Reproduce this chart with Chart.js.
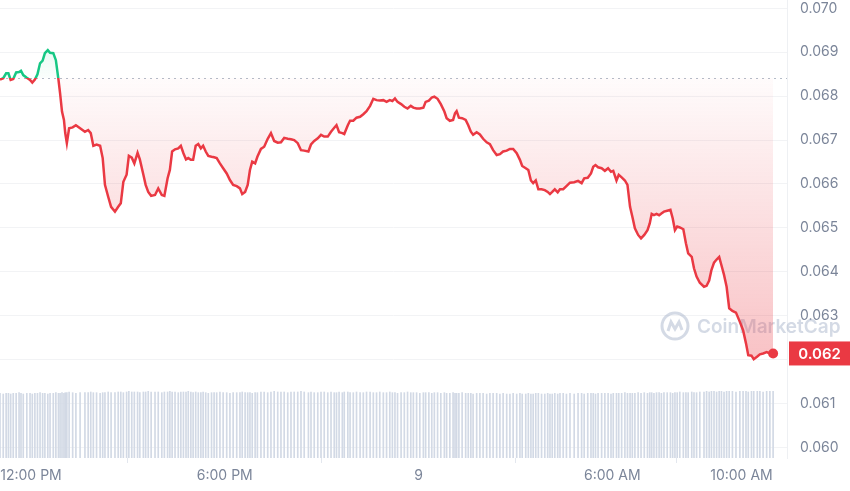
<!DOCTYPE html>
<html>
<head>
<meta charset="utf-8">
<script src="https://cdn.jsdelivr.net/npm/chart.js@4.4.1/dist/chart.umd.min.js"></script>
<style>
  body { margin: 0; background: #fff; }
  #wrap { width: 850px; height: 491px; }
</style>
</head>
<body>
<div id="wrap"><canvas id="priceChart" width="850" height="491"></canvas></div>
<script>
// hours relative to 12:00 PM (day 8)
const times = [
  -0.96,-0.86,-0.77,-0.70,-0.63,-0.55,-0.46,-0.37,-0.31,-0.24,
  -0.13,-0.03,0.04,0.12,0.20,0.28,0.36,0.43,0.52,0.59,
  0.69,0.77,0.85,0.90,0.96,1.02,1.06,1.11,1.18,1.29,
  1.39,1.52,1.67,1.77,1.85,1.93,2.03,2.14,2.22,2.29,
  2.39,2.48,2.60,2.70,2.78,2.86,2.96,3.03,3.12,3.20,
  3.30,3.37,3.48,3.55,3.63,3.72,3.84,3.94,4.05,4.13,
  4.23,4.30,4.37,4.46,4.56,4.64,4.72,4.80,4.87,4.95,
  5.02,5.10,5.18,5.26,5.33,5.41,5.49,5.59,5.67,5.75,
  5.85,5.95,6.06,6.16,6.26,6.37,6.47,6.54,6.63,6.71,
  6.78,6.85,6.94,7.01,7.12,7.22,7.33,7.43,7.53,7.64,
  7.74,7.84,7.95,8.05,8.15,8.26,8.36,8.46,8.59,8.67,
  8.77,8.88,8.98,9.08,9.19,9.29,9.39,9.46,9.54,9.64,
  9.70,9.81,9.88,9.98,10.08,10.19,10.29,10.39,10.50,10.60,
  10.70,10.80,10.91,11.01,11.11,11.19,11.27,11.35,11.46,11.56,
  11.66,11.76,11.84,11.94,12.04,12.15,12.22,12.32,12.41,12.49,
  12.59,12.69,12.80,12.87,12.97,13.07,13.13,13.18,13.25,13.35,
  13.46,13.54,13.62,13.69,13.80,13.90,14.00,14.11,14.21,14.31,
  14.42,14.52,14.62,14.73,14.83,14.93,15.04,15.14,15.21,15.32,
  15.40,15.48,15.55,15.63,15.71,15.81,15.91,16.00,16.07,16.14,
  16.22,16.31,16.38,16.48,16.58,16.69,16.82,16.94,17.05,17.13,
  17.24,17.34,17.41,17.48,17.56,17.67,17.77,17.87,17.96,18.03,
  18.13,18.20,18.29,18.39,18.47,18.55,18.62,18.70,18.80,18.89,
  18.99,19.09,19.16,19.22,19.29,19.37,19.45,19.52,19.60,19.70,
  19.80,19.87,19.94,20.01,20.09,20.20,20.28,20.35,20.46,20.53,
  20.61,20.71,20.84,20.92,21.00,21.07,21.15,21.23,21.31,21.38,
  21.46,21.54,21.62,21.72,21.83,21.95,22.05,22.14,22.21,22.31,
  22.38,22.49,22.57,22.67,22.78,22.88,22.98
];

const prices = [
  0.06838,0.06841,0.06852,0.06852,0.06837,0.06839,0.06854,0.06855,0.06858,0.06848,
  0.06842,0.06837,0.06831,0.06838,0.06850,0.06875,0.06881,0.06898,0.06905,0.06899,
  0.06898,0.06882,0.06838,0.06807,0.06765,0.06746,0.06716,0.06693,0.06727,0.06729,
  0.06734,0.06727,0.06719,0.06723,0.06716,0.06687,0.06690,0.06687,0.06659,0.06598,
  0.06571,0.06548,0.06537,0.06548,0.06556,0.06605,0.06621,0.06664,0.06660,0.06647,
  0.06671,0.06656,0.06621,0.06598,0.06582,0.06573,0.06575,0.06590,0.06575,0.06573,
  0.06613,0.06632,0.06674,0.06679,0.06681,0.06687,0.06670,0.06656,0.06659,0.06655,
  0.06655,0.06687,0.06691,0.06681,0.06687,0.06674,0.06664,0.06662,0.06661,0.06659,
  0.06647,0.06636,0.06624,0.06609,0.06598,0.06595,0.06590,0.06577,0.06582,0.06598,
  0.06632,0.06651,0.06647,0.06662,0.06680,0.06685,0.06703,0.06716,0.06698,0.06694,
  0.06695,0.06705,0.06703,0.06702,0.06700,0.06693,0.06677,0.06676,0.06674,0.06690,
  0.06698,0.06704,0.06712,0.06708,0.06708,0.06719,0.06728,0.06734,0.06718,0.06716,
  0.06714,0.06734,0.06744,0.06744,0.06751,0.06753,0.06759,0.06766,0.06778,0.06794,
  0.06791,0.06790,0.06791,0.06787,0.06791,0.06789,0.06795,0.06787,0.06782,0.06776,
  0.06772,0.06778,0.06774,0.06772,0.06772,0.06774,0.06787,0.06790,0.06797,0.06799,
  0.06794,0.06782,0.06765,0.06750,0.06744,0.06746,0.06761,0.06766,0.06751,0.06750,
  0.06746,0.06734,0.06719,0.06712,0.06718,0.06713,0.06703,0.06695,0.06691,0.06677,
  0.06666,0.06668,0.06674,0.06676,0.06680,0.06680,0.06670,0.06655,0.06641,0.06636,
  0.06632,0.06608,0.06602,0.06608,0.06588,0.06588,0.06586,0.06582,0.06577,0.06582,
  0.06588,0.06581,0.06588,0.06588,0.06595,0.06603,0.06604,0.06607,0.06602,0.06613,
  0.06614,0.06624,0.06639,0.06643,0.06638,0.06636,0.06630,0.06636,0.06628,0.06630,
  0.06608,0.06621,0.06615,0.06608,0.06598,0.06548,0.06526,0.06499,0.06484,0.06476,
  0.06484,0.06495,0.06510,0.06532,0.06529,0.06532,0.06529,0.06533,0.06537,0.06539,
  0.06541,0.06522,0.06495,0.06503,0.06501,0.06497,0.06465,0.06442,0.06434,0.06408,
  0.06389,0.06375,0.06366,0.06368,0.06380,0.06404,0.06421,0.06428,0.06434,0.06415,
  0.06393,0.06366,0.06317,0.06311,0.06307,0.06286,0.06267,0.06237,0.06210,0.06209,
  0.06201,0.06207,0.06212,0.06214,0.06217,0.06214,0.06214
];

// relative volume (no axis shown)
const volumes = [
  96,95,96,96,95,96,96,97,96,95,96,96,95,96,96,97,96,96,95,96,96,97,96,96,
  97,96,97,97,98,97,96,97,97,97,98,97,97,96,97,97,98,97,97,
  98,98,97,98,99,98,98,98,97,98,98,99,98,98,98,97,98,98,99,98,98,97,98,98,98,99,98,97,98,
  97,97,98,97,96,97,97,97,98,97,97,96,97,97,97,98,97,97,97,96,97,97,
  98,98,97,98,99,98,98,98,97,98,98,98,99,
  98,97,98,97,97,98,98,97,98,97,97,98,97,98,98,97,97,98,97,97,98,98,97,97,98,97,97,98,97,97,96,97,
  97,98,97,97,97,96,97,97,97,96,97,97,96,97,96,96,97,96,96,96,97,96,96,96,95,96,96,96,95,96,96,96,
  95,96,95,95,96,95,96,95,95,96,95,95,96,96,95,95,96,95,95,96,95,96,96,95,
  96,95,96,96,95,96,96,96,95,96,96,96,96,95,96,96,96,96,97,96,96,96,96,97,
  96,97,96,97,97,96,97,97,96,97,97,97,96,97,97,98,97,97,97,98,97,97,
  98,98,99,98,99,99,98,99,99,98,99,99,99,98,99,99,99,98,99,99,99,99,98,99,99,99
];

const openPrice = 0.06841;
const yTicks = [0.060,0.061,0.062,0.063,0.064,0.065,0.066,0.067,0.068,0.069,0.070];
const xTickHours = [0, 6, 12, 18, 22];
const xTickLabels = ['12:00 PM', '6:00 PM', '9', '6:00 AM', '10:00 AM'];

const GREEN = '#16c784';
const RED = '#ea3943';

function basePos(chart) {
  const area = chart.chartArea;
  const yb = chart.scales.y.getPixelForValue(openPrice);
  return Math.min(1, Math.max(0, (yb - area.top) / (area.bottom - area.top)));
}

function lineGradient(ctx) {
  const chart = ctx.chart;
  const area = chart.chartArea;
  if (!area) return RED;
  const b = basePos(chart);
  const g = chart.ctx.createLinearGradient(0, area.top, 0, area.bottom);
  g.addColorStop(0, GREEN);
  g.addColorStop(b, GREEN);
  g.addColorStop(b, RED);
  g.addColorStop(1, RED);
  return g;
}

function fillGradient(ctx) {
  const chart = ctx.chart;
  const area = chart.chartArea;
  if (!area) return 'rgba(234,57,67,0.1)';
  const b = basePos(chart);
  const yLow = chart.scales.y.getPixelForValue(prices[prices.length - 1]);
  const low = Math.min(1, Math.max(b, (yLow - area.top) / (area.bottom - area.top)));
  const g = chart.ctx.createLinearGradient(0, area.top, 0, area.bottom);
  g.addColorStop(0, 'rgba(22,199,132,0.22)');
  g.addColorStop(b, 'rgba(22,199,132,0.02)');
  g.addColorStop(b, 'rgba(234,57,67,0.02)');
  g.addColorStop(low, 'rgba(234,57,67,0.30)');
  g.addColorStop(1, 'rgba(234,57,67,0.33)');
  return g;
}

// dotted open-price line + watermark under the data
const backdrop = {
  id: 'backdrop',
  beforeDatasetsDraw(chart) {
    const {ctx, chartArea} = chart;
    const y = Math.round(chart.scales.y.getPixelForValue(openPrice)) + 0.5;
    ctx.save();
    ctx.strokeStyle = '#b4bcc8';
    ctx.lineWidth = 1;
    ctx.setLineDash([2, 4]);
    ctx.beginPath();
    ctx.moveTo(chartArea.left, y);
    ctx.lineTo(chartArea.right, y);
    ctx.stroke();
    ctx.setLineDash([]);

    // CoinMarketCap watermark
    const cx = chartArea.right - 112, cy = 326;
    ctx.strokeStyle = 'rgba(160,172,198,0.45)';
    ctx.lineWidth = 3;
    ctx.beginPath();
    ctx.arc(cx, cy, 13, 0, Math.PI * 2);
    ctx.stroke();
    ctx.beginPath();
    ctx.moveTo(cx - 7, cy + 5);
    ctx.lineTo(cx - 4, cy - 4);
    ctx.lineTo(cx, cy + 3);
    ctx.lineTo(cx + 4, cy - 4);
    ctx.lineTo(cx + 7, cy + 4);
    ctx.stroke();
    ctx.fillStyle = 'rgba(160,172,198,0.45)';
    ctx.font = '600 19px Inter';
    ctx.textBaseline = 'middle';
    ctx.fillText('CoinMarketCap', cx + 22, cy + 1);
    ctx.restore();
  }
};

// current price tag on the right axis
const priceTag = {
  id: 'priceTag',
  afterDraw(chart) {
    const {ctx, chartArea} = chart;
    const last = prices[prices.length - 1];
    const y = chart.scales.y.getPixelForValue(last);
    ctx.save();
    ctx.fillStyle = RED;
    ctx.fillRect(chartArea.right + 2, y - 12, chart.width - chartArea.right - 2, 24);
    ctx.fillStyle = '#fff';
    ctx.font = '600 15px Inter';
    ctx.textAlign = 'center';
    ctx.textBaseline = 'middle';
    ctx.fillText(last.toFixed(3), (chartArea.right + 2 + chart.width) / 2, y + 1);
    ctx.restore();
  }
};

const lastIdx = prices.length - 1;

new Chart(document.getElementById('priceChart'), {
  type: 'line',
  data: {
    datasets: [{
      type: 'line',
      data: times.map((t, i) => ({x: t, y: prices[i]})),
      yAxisID: 'y',
      borderColor: lineGradient,
      borderWidth: 2.5,
      tension: 0,
      fill: {target: {value: openPrice}},
      backgroundColor: fillGradient,
      pointRadius: ctx => ctx.dataIndex === lastIdx ? 5 : 0,
      pointBackgroundColor: RED,
      pointBorderColor: RED,
      pointBorderWidth: 0,
      order: 1
    }, {
      type: 'bar',
      data: times.map((t, i) => ({x: t, y: volumes[i]})),
      yAxisID: 'yVol',
      backgroundColor: '#d2d9e5',
      barThickness: 1,
      order: 2
    }]
  },
  options: {
    responsive: false,
    animation: false,
    layout: {padding: 0, autoPadding: false},
    plugins: {legend: {display: false}, tooltip: {enabled: false}},
    scales: {
      x: {
        type: 'linear',
        min: -0.96,
        max: 23.41,
        offset: false,
        afterBuildTicks: scale => { scale.ticks = xTickHours.map(v => ({value: v})); },
        afterFit: scale => {
          scale.height = 33;
          scale.paddingLeft = 0;
          scale.paddingRight = 0;
        },
        grid: {drawOnChartArea: false, drawTicks: true, tickLength: 5, color: '#e3e7ee'},
        border: {display: false},
        ticks: {
          autoSkip: false,
          maxRotation: 0,
          padding: 4,
          color: '#7b8599',
          font: {family: 'Inter', size: 14},
          callback: (v, i) => xTickLabels[i]
        }
      },
      y: {
        position: 'right',
        min: 0.059759,
        max: 0.070191,
        afterBuildTicks: scale => { scale.ticks = yTicks.map(v => ({value: v})); },
        afterFit: scale => {
          scale.width = 63;
          scale.paddingTop = 0;
          scale.paddingBottom = 0;
        },
        grid: {color: '#f2f3f5', drawTicks: false},
        border: {display: true, color: '#eef0f3'},
        ticks: {
          padding: 13,
          color: '#7b8599',
          font: {family: 'Inter', size: 14},
          callback: v => v.toFixed(3)
        }
      },
      yVol: {
        display: false,
        min: 0,
        max: 680
      }
    }
  },
  plugins: [backdrop, priceTag]
});
</script>
</body>
</html>
